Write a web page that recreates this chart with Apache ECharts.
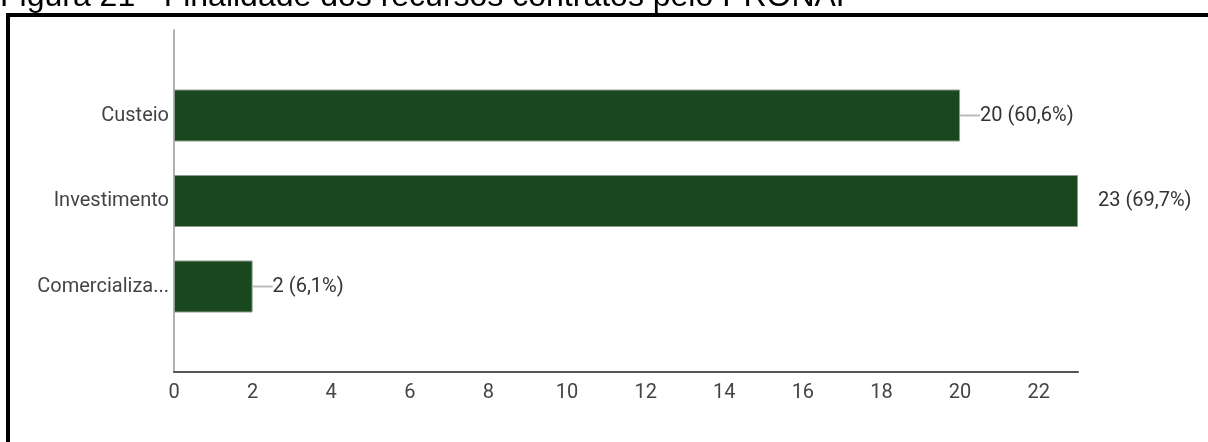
<!DOCTYPE html>
<html>
<head>
<meta charset="utf-8">
<script src="https://cdn.jsdelivr.net/npm/echarts@6/dist/echarts.min.js"></script>
<style>
  body { margin: 0; background: #fff; }
  #chart { width: 1208px; height: 442px; }
</style>
</head>
<body>
<div id="chart"></div>
<script>
// dados
var categorias = ['Custeio', 'Investimento', 'Comercialização'];
var valores = [20, 23, 2];
var percentuais = ['60,6%', '69,7%', '6,1%'];
var ticksX = [0, 2, 4, 6, 8, 10, 12, 14, 16, 18, 20, 22];
var tituloFigura = 'Figura 21 - Finalidade dos recursos contratos pelo PRONAF';

var xMax = 23;
var fonte = '"Liberation Sans Narrow", "Roboto", sans-serif';

var chart = echarts.init(document.getElementById('chart'));

var option = {
  animation: false,
  grid: { left: 174, right: 130, top: 30, bottom: 70, containLabel: false },
  graphic: [
    {
      type: 'rect',
      shape: { x: 8, y: 15, width: 1300, height: 500 },
      style: { fill: 'none', stroke: '#000', lineWidth: 4 },
      silent: true
    },
    {
      type: 'text',
      x: 0,
      y: 13,
      style: {
        text: tituloFigura,
        font: '32px "Liberation Sans", Arial, sans-serif',
        fill: '#000',
        verticalAlign: 'bottom'
      },
      silent: true
    }
  ],
  xAxis: {
    type: 'value',
    min: 0,
    max: xMax,
    interval: 2,
    axisLine: { show: true, lineStyle: { color: '#555', width: 2 } },
    axisTick: { show: false },
    splitLine: { show: false },
    axisLabel: {
      margin: 11,
      color: '#444',
      fontSize: 20,
      fontFamily: fonte,
      showMaxLabel: false,
      formatter: function (v) { return ticksX.indexOf(v) >= 0 ? String(v) : ''; }
    }
  },
  yAxis: {
    type: 'category',
    data: categorias,
    inverse: true,
    boundaryGap: false,
    min: -1,
    max: 3,
    axisLine: { show: true, lineStyle: { color: '#999', width: 1.5 } },
    axisTick: { show: false },
    splitLine: { show: false },
    axisLabel: {
      margin: 5,
      color: '#444',
      fontSize: 20,
      fontFamily: fonte,
      width: 140,
      overflow: 'truncate',
      ellipsis: '...'
    }
  },
  series: [{
    type: 'bar',
    data: valores,
    barWidth: 52,
    itemStyle: { color: '#19471e', borderColor: '#8c9c8d', borderWidth: 1 },
    label: {
      show: true,
      position: 'right',
      distance: 0,
      fontFamily: fonte,
      fontSize: 20,
      color: '#333',
      formatter: function (p) {
        var txt = p.value + ' (' + percentuais[p.dataIndex] + ')';
        return (p.value >= xMax ? '{gap|}' : '{line|}') + '{t|' + txt + '}';
      },
      rich: {
        line: { width: 20, height: 2, backgroundColor: '#bbb' },
        gap: { width: 20, height: 2 },
        t: { fontFamily: fonte, fontSize: 20, color: '#333' }
      }
    }
  }]
};

chart.setOption(option);
</script>
</body>
</html>
